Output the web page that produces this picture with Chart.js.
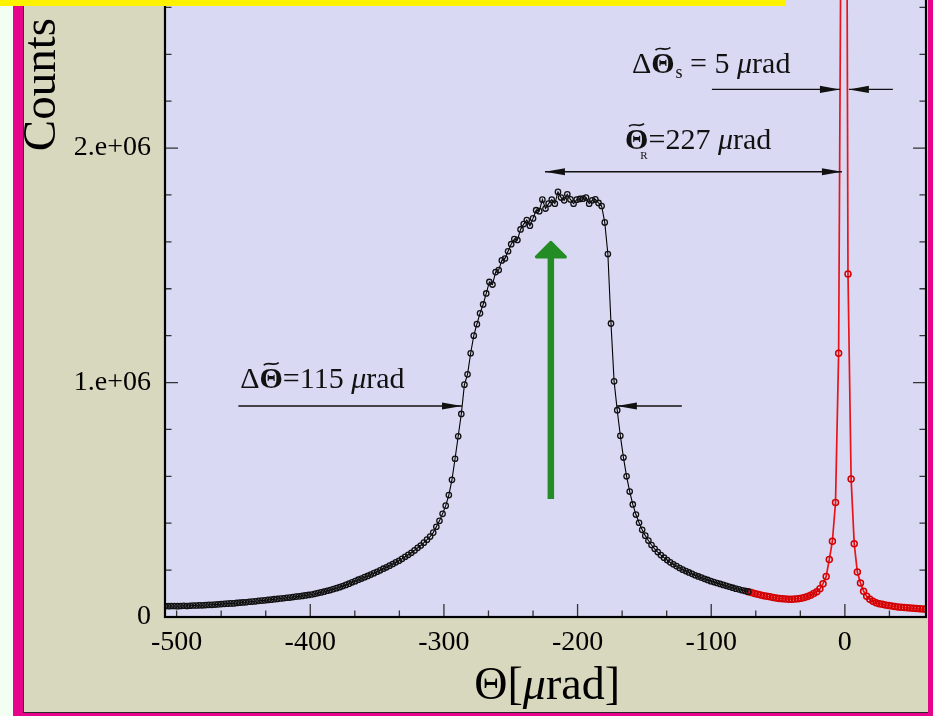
<!DOCTYPE html>
<html>
<head>
<meta charset="utf-8">
<script src="https://cdn.jsdelivr.net/npm/chart.js@4.4.1/dist/chart.umd.min.js"></script>
<style>
  html, body { margin: 0; padding: 0; }
  body { width: 933px; height: 716px; overflow: hidden; position: relative; background: #f4fff4; }
  #frame { position: absolute; left: 13px; top: 0; width: 920px; height: 716px; background: #e6058a; }
  #panel { position: absolute; left: 23px; top: 0; width: 904px; height: 712px; background: #d8d8be;
           border-left: 1px solid #2a2a2a; border-bottom: 1px solid #2a2a2a; }
  #plot { position: absolute; left: 0; top: -45px; }
  #caption { position: absolute; left: 0; top: 0; width: 786px; height: 6px; background: #fff200; z-index: 2; }
</style>
</head>
<body>
<div id="frame"></div>
<div id="panel"></div>
<canvas id="plot" width="933" height="761"></canvas>
<div id="caption"></div>
<script>
// Theta in microradians, counts in millions
const thetaBlack = [
  -508.67, -506.33, -504.00, -501.67, -499.33, -497.00, -494.67, -492.33, -490.00, -487.67,
  -485.33, -483.00, -480.67, -478.33, -476.00, -473.67, -471.33, -469.00, -466.67, -464.33,
  -462.00, -459.67, -457.33, -455.00, -452.67, -450.33, -448.00, -445.67, -443.33, -441.00,
  -438.67, -436.33, -434.00, -431.67, -429.33, -427.00, -424.67, -422.33, -420.00, -417.67,
  -415.33, -413.00, -410.67, -408.33, -406.00, -403.67, -401.33, -399.00, -396.67, -394.33,
  -392.00, -389.67, -387.33, -385.00, -382.67, -380.33, -378.00, -375.67, -373.33, -371.00,
  -368.67, -366.33, -364.00, -361.67, -359.33, -357.00, -354.67, -352.33, -350.00, -347.67,
  -345.33, -343.00, -340.67, -338.33, -336.00, -333.67, -331.33, -329.00, -326.67, -324.33,
  -322.00, -319.67, -317.33, -315.00, -312.67, -310.33, -308.00, -305.67, -303.33, -301.00,
  -298.67, -296.33, -294.00, -291.67, -289.33, -287.00, -284.67, -282.33, -280.00, -277.67,
  -275.33, -273.00, -270.67, -268.33, -266.00, -263.67, -261.33, -259.00, -256.67, -254.33,
  -252.00, -249.67, -247.33, -245.00, -242.67, -240.33, -238.00, -235.67, -233.33, -231.00,
  -228.67, -226.33, -224.00, -221.67, -219.33, -217.00, -214.67, -212.33, -210.00, -207.67,
  -205.33, -203.00, -200.67, -198.33, -196.00, -193.67, -191.33, -189.00, -186.67, -184.33,
  -182.00, -179.67, -177.33, -175.00, -172.67, -170.33, -168.00, -165.67, -163.33, -161.00,
  -158.67, -156.33, -154.00, -151.67, -149.33, -147.00, -144.67, -142.33, -140.00, -137.67,
  -135.33, -133.00, -130.67, -128.33, -126.00, -123.67, -121.33, -119.00, -116.67, -114.33,
  -112.00, -109.67, -107.33, -105.00, -102.67, -100.33, -98.00, -95.67, -93.33, -91.00,
  -88.67, -86.33, -84.00, -81.67, -79.33, -77.00, -74.67, -72.33
];
const countsBlack = [
  0.047, 0.046, 0.047, 0.047, 0.046, 0.047, 0.048, 0.047, 0.048, 0.049,
  0.049, 0.050, 0.050, 0.051, 0.052, 0.052, 0.053, 0.054, 0.055, 0.056,
  0.057, 0.058, 0.058, 0.060, 0.061, 0.062, 0.063, 0.065, 0.066, 0.067,
  0.069, 0.070, 0.071, 0.073, 0.074, 0.076, 0.077, 0.079, 0.080, 0.082,
  0.083, 0.085, 0.087, 0.088, 0.090, 0.092, 0.094, 0.096, 0.099, 0.102,
  0.105, 0.108, 0.112, 0.115, 0.119, 0.123, 0.127, 0.132, 0.137, 0.142,
  0.148, 0.153, 0.159, 0.164, 0.170, 0.175, 0.181, 0.187, 0.193, 0.199,
  0.206, 0.212, 0.219, 0.226, 0.233, 0.240, 0.248, 0.257, 0.265, 0.274,
  0.284, 0.295, 0.305, 0.317, 0.330, 0.343, 0.360, 0.385, 0.410, 0.440,
  0.475, 0.520, 0.585, 0.675, 0.771, 0.866, 0.991, 1.035, 1.125, 1.200,
  1.249, 1.295, 1.333, 1.380, 1.429, 1.418, 1.471, 1.480, 1.521, 1.529,
  1.560, 1.590, 1.612, 1.608, 1.653, 1.676, 1.693, 1.669, 1.700, 1.735,
  1.731, 1.780, 1.742, 1.763, 1.780, 1.763, 1.813, 1.789, 1.777, 1.803,
  1.781, 1.763, 1.780, 1.783, 1.784, 1.789, 1.763, 1.777, 1.781, 1.766,
  1.753, 1.683, 1.548, 1.252, 1.005, 0.882, 0.773, 0.680, 0.600, 0.535,
  0.480, 0.437, 0.402, 0.372, 0.347, 0.326, 0.307, 0.291, 0.277, 0.264,
  0.253, 0.243, 0.233, 0.225, 0.217, 0.209, 0.202, 0.196, 0.190, 0.184,
  0.178, 0.173, 0.168, 0.163, 0.158, 0.153, 0.149, 0.145, 0.141, 0.137,
  0.133, 0.129, 0.125, 0.121, 0.118, 0.114, 0.111, 0.108
];
const thetaRed = [
  -72.33, -70.00, -67.67, -65.33, -63.00, -60.67, -58.33, -56.00, -53.67, -51.33,
  -49.00, -46.67, -44.33, -42.00, -39.67, -37.33, -35.00, -32.67, -30.33, -28.00,
  -25.67, -23.33, -21.00, -18.67, -16.33, -14.00, -11.67, -9.33, -7.00, -4.67,
  -2.33, 0.00, 2.33, 4.67, 7.00, 9.33, 11.67, 14.00, 16.33, 18.67,
  21.00, 23.33, 25.67, 28.00, 30.33, 32.67, 35.00, 37.33, 39.67, 42.00,
  44.33, 46.67, 49.00, 51.33, 53.67, 56.00, 58.33, 60.67
];
const countsRed = [
  0.108, 0.104, 0.100, 0.097, 0.094, 0.091, 0.088, 0.086, 0.083, 0.081,
  0.079, 0.078, 0.077, 0.076, 0.076, 0.077, 0.078, 0.080, 0.083, 0.087,
  0.093, 0.100, 0.108, 0.120, 0.142, 0.173, 0.245, 0.323, 0.488, 1.125,
  3.600, 5.800, 1.463, 0.589, 0.312, 0.192, 0.145, 0.110, 0.088, 0.076,
  0.067, 0.061, 0.057, 0.054, 0.051, 0.049, 0.047, 0.045, 0.043, 0.042,
  0.040, 0.039, 0.038, 0.037, 0.036, 0.035, 0.034, 0.033
];

const xTickValues = [-500, -400, -300, -200, -100, 0];
const xTickLabels = ['-500', '-400', '-300', '-200', '-100', '0'];
const yTickValues = [0, 1, 2];
const yTickLabels = ['0', '1.e+06', '2.e+06'];

const SERIF = "'Liberation Serif', 'Times New Roman', serif";
const PAGE_OFFSET = 45; // canvas sits 45px above the page top

// annotation anchors in axis units (theta, counts in millions)
const widthMarks = { y: 0.90, left: [-453.8, -286.5], right: [-122, -170.6], text: [-452.4, 0.977] };
const rangeMark = { y: 1.899, from: -224.4, to: -2.2, text: [-164.6, 1.996] };
const peakMark = { y: 2.25, left: [-99.5, -3.7], right: [35.9, 3.0], text: [-159.3, 2.321] };
const greenArrow = { x: -220, from: 0.503, to: 1.604 };

function toPoints(xs, ys) {
    return xs.map((x, i) => ({ x: x, y: ys[i] }));
}

function arrowHead(ctx, tipX, tipY, dir) {
    // dir = +1 points right, -1 points left
    ctx.beginPath();
    ctx.moveTo(tipX, tipY);
    ctx.lineTo(tipX - dir * 20, tipY - 3.6);
    ctx.lineTo(tipX - dir * 20, tipY + 3.6);
    ctx.closePath();
    ctx.fill();
}

function hLine(ctx, x1, x2, y) {
    ctx.beginPath();
    ctx.moveTo(x1, y);
    ctx.lineTo(x2, y);
    ctx.stroke();
}

function tilde(ctx, cx, cy, hw) {
    ctx.save();
    ctx.lineWidth = 1.7;
    ctx.beginPath();
    ctx.moveTo(cx - hw, cy + 1.3);
    ctx.bezierCurveTo(cx - hw * 0.4, cy - 3.2, cx + hw * 0.4, cy + 3.2, cx + hw, cy - 1.3);
    ctx.stroke();
    ctx.restore();
}

// draws a run of text pieces with their own fonts and offsets
function richText(ctx, x, y, pieces) {
    pieces.forEach(p => {
        ctx.font = p.font;
        const w = ctx.measureText(p.text).width;
        const px = x + (p.dx || 0);
        ctx.fillText(p.text, px, y + (p.dy || 0));
        if (p.tilde) tilde(ctx, px + w / 2, y - p.tilde, w * 0.32);
        x = px + w;
    });
    return x;
}

function textWidth(ctx, pieces) {
    let w = 0;
    pieces.forEach(p => { ctx.font = p.font; w += ctx.measureText(p.text).width + (p.dx || 0); });
    return w;
}

// no label overhang padding, so the plot area fills the canvas exactly
function noPadding(scale) {
    scale.paddingTop = 0;
    scale.paddingBottom = 0;
    scale.paddingLeft = 0;
    scale.paddingRight = 0;
}

const plotDecor = {
    id: 'plotDecor',
    beforeDraw(chart) {
        const { ctx, chartArea: a } = chart;
        ctx.save();
        ctx.fillStyle = '#d9d9f3';
        ctx.fillRect(a.left, a.top, a.right - a.left, a.bottom - a.top);
        ctx.restore();
    },
    afterDraw(chart) {
        const { ctx, chartArea: a, scales } = chart;
        const xs = scales.x, ys = scales.y;
        ctx.save();

        // tick marks on all four sides, drawn inward
        ctx.strokeStyle = '#333';
        ctx.lineWidth = 1.3;
        const xMajor = [-400, -300, -200, -100, 0];
        for (let v = -500; v <= 60; v += 100 / 3) {
            const r = Math.round(v * 100) / 100;
            const major = xMajor.some(m => Math.abs(m - r) < 0.01);
            const len = major ? 13 : 6.5;
            const px = xs.getPixelForValue(r);
            ctx.beginPath();
            ctx.moveTo(px, a.bottom); ctx.lineTo(px, a.bottom - len);
            ctx.moveTo(px, a.top); ctx.lineTo(px, a.top + len);
            ctx.stroke();
        }
        for (let i = 1; i <= 14; i++) {
            const v = i * 0.2;
            const len = i % 5 === 0 ? 13 : 6.5;
            const py = ys.getPixelForValue(v);
            ctx.beginPath();
            ctx.moveTo(a.left, py); ctx.lineTo(a.left + len, py);
            ctx.moveTo(a.right, py); ctx.lineTo(a.right - len, py);
            ctx.stroke();
        }

        // plot frame
        ctx.strokeStyle = '#000';
        ctx.lineWidth = 2.2;
        ctx.strokeRect(a.left, a.top, a.right - a.left, a.bottom - a.top);

        // FWHM arrows of the broad peak
        ctx.strokeStyle = '#111';
        ctx.fillStyle = '#111';
        ctx.lineWidth = 1.3;
        let y = ys.getPixelForValue(widthMarks.y);
        hLine(ctx, xs.getPixelForValue(widthMarks.left[0]), xs.getPixelForValue(widthMarks.left[1]), y);
        arrowHead(ctx, xs.getPixelForValue(widthMarks.left[1]), y, 1);
        hLine(ctx, xs.getPixelForValue(widthMarks.right[0]), xs.getPixelForValue(widthMarks.right[1]), y);
        arrowHead(ctx, xs.getPixelForValue(widthMarks.right[1]), y, -1);

        // separation between the two peaks
        y = ys.getPixelForValue(rangeMark.y);
        const r1 = xs.getPixelForValue(rangeMark.from), r2 = xs.getPixelForValue(rangeMark.to);
        hLine(ctx, r1, r2, y);
        arrowHead(ctx, r1, y, -1);
        arrowHead(ctx, r2, y, 1);

        // width of the narrow peak
        y = ys.getPixelForValue(peakMark.y);
        hLine(ctx, xs.getPixelForValue(peakMark.left[0]), xs.getPixelForValue(peakMark.left[1]), y);
        arrowHead(ctx, xs.getPixelForValue(peakMark.left[1]), y, 1);
        hLine(ctx, xs.getPixelForValue(peakMark.right[0]), xs.getPixelForValue(peakMark.right[1]), y);
        arrowHead(ctx, xs.getPixelForValue(peakMark.right[1]), y, -1);

        // labels
        const f = size => size + 'px ' + SERIF;
        const fb = size => 'bold ' + size + 'px ' + SERIF;
        const fi = size => 'italic ' + size + 'px ' + SERIF;
        ctx.textAlign = 'left';
        ctx.textBaseline = 'alphabetic';
        richText(ctx, xs.getPixelForValue(widthMarks.text[0]), ys.getPixelForValue(widthMarks.text[1]), [
            { text: '\u0394', font: f(30) },
            { text: '\u0398', font: fb(30), tilde: 24 },
            { text: '=115 ', font: f(30) },
            { text: '\u03bc', font: fi(30) },
            { text: 'rad', font: f(30) }
        ]);
        richText(ctx, xs.getPixelForValue(rangeMark.text[0]), ys.getPixelForValue(rangeMark.text[1]), [
            { text: '\u0398', font: fb(30), tilde: 24 },
            { text: 'R', font: f(11), dx: -8, dy: 10 },
            { text: '=227 ', font: f(30), dx: 1 },
            { text: '\u03bc', font: fi(30) },
            { text: 'rad', font: f(30) }
        ]);
        richText(ctx, xs.getPixelForValue(peakMark.text[0]), ys.getPixelForValue(peakMark.text[1]), [
            { text: '\u0394', font: f(30) },
            { text: '\u0398', font: fb(30), tilde: 24 },
            { text: 's', font: f(18), dy: 5, dx: 1 },
            { text: ' = 5 ', font: f(30) },
            { text: '\u03bc', font: fi(30) },
            { text: 'rad', font: f(30) }
        ]);

        // green marker arrow
        const gx = xs.getPixelForValue(greenArrow.x);
        const gy0 = ys.getPixelForValue(greenArrow.from);
        const gy1 = ys.getPixelForValue(greenArrow.to);
        ctx.strokeStyle = '#248c24';
        ctx.fillStyle = '#248c24';
        ctx.lineWidth = 6.5;
        ctx.beginPath();
        ctx.moveTo(gx, gy0);
        ctx.lineTo(gx, gy1 + 14);
        ctx.stroke();
        ctx.lineWidth = 3;
        ctx.lineJoin = 'round';
        ctx.beginPath();
        ctx.moveTo(gx, gy1 + 1.5);
        ctx.lineTo(gx - 14.5, gy1 + 16);
        ctx.lineTo(gx + 14.5, gy1 + 16);
        ctx.closePath();
        ctx.fill();
        ctx.stroke();

        // axis titles
        ctx.fillStyle = '#000';
        const xTitle = [
            { text: '\u0398[', font: f(46) },
            { text: '\u03bc', font: fi(46) },
            { text: 'rad]', font: f(46) }
        ];
        richText(ctx, 620 - textWidth(ctx, xTitle), 699 + PAGE_OFFSET, xTitle);

        ctx.translate(55, 18 + PAGE_OFFSET);
        ctx.rotate(-Math.PI / 2);
        ctx.font = f(47);
        ctx.textAlign = 'right';
        ctx.fillText('Counts', 0, 0);
        ctx.restore();
    }
};

Chart.defaults.font.family = SERIF;
Chart.defaults.color = '#000';

new Chart(document.getElementById('plot'), {
    type: 'scatter',
    data: {
        datasets: [
            {
                data: toPoints(thetaBlack, countsBlack),
                showLine: true,
                borderColor: '#000',
                borderWidth: 1.1,
                pointRadius: 2.7,
                pointBorderWidth: 1.3,
                pointBorderColor: '#111',
                pointBackgroundColor: 'rgba(0,0,0,0)'
            },
            {
                data: toPoints(thetaRed, countsRed),
                showLine: true,
                borderColor: '#e8141a',
                borderWidth: 1.7,
                pointRadius: 3,
                pointBorderWidth: 1.5,
                pointBorderColor: '#d40000',
                pointBackgroundColor: 'rgba(0,0,0,0)'
            }
        ]
    },
    options: {
        responsive: false,
        animation: false,
        devicePixelRatio: 1,
        layout: { padding: { top: 0, right: 7, bottom: 0, left: 0 } },
        plugins: { legend: { display: false }, tooltip: { enabled: false } },
        scales: {
            x: {
                type: 'linear',
                min: -508.7,
                max: 60.7,
                grid: { display: false, drawTicks: false, tickLength: 0 },
                border: { display: false },
                afterBuildTicks: scale => { scale.ticks = xTickValues.map(v => ({ value: v })); },
                afterFit: scale => { scale.height = 99; noPadding(scale); },
                ticks: {
                    autoSkip: false,
                    maxRotation: 0,
                    padding: 9,
                    font: { size: 28 },
                    callback: v => xTickLabels[xTickValues.indexOf(v)]
                }
            },
            y: {
                type: 'linear',
                min: 0,
                max: 2.8,
                grid: { display: false, drawTicks: false, tickLength: 0 },
                border: { display: false },
                afterBuildTicks: scale => { scale.ticks = yTickValues.map(v => ({ value: v })); },
                afterFit: scale => { scale.width = 165; noPadding(scale); },
                ticks: {
                    autoSkip: false,
                    padding: 14,
                    font: { size: 28 },
                    callback: v => yTickLabels[yTickValues.indexOf(v)]
                }
            }
        }
    },
    plugins: [plotDecor]
});
</script>
</body>
</html>
